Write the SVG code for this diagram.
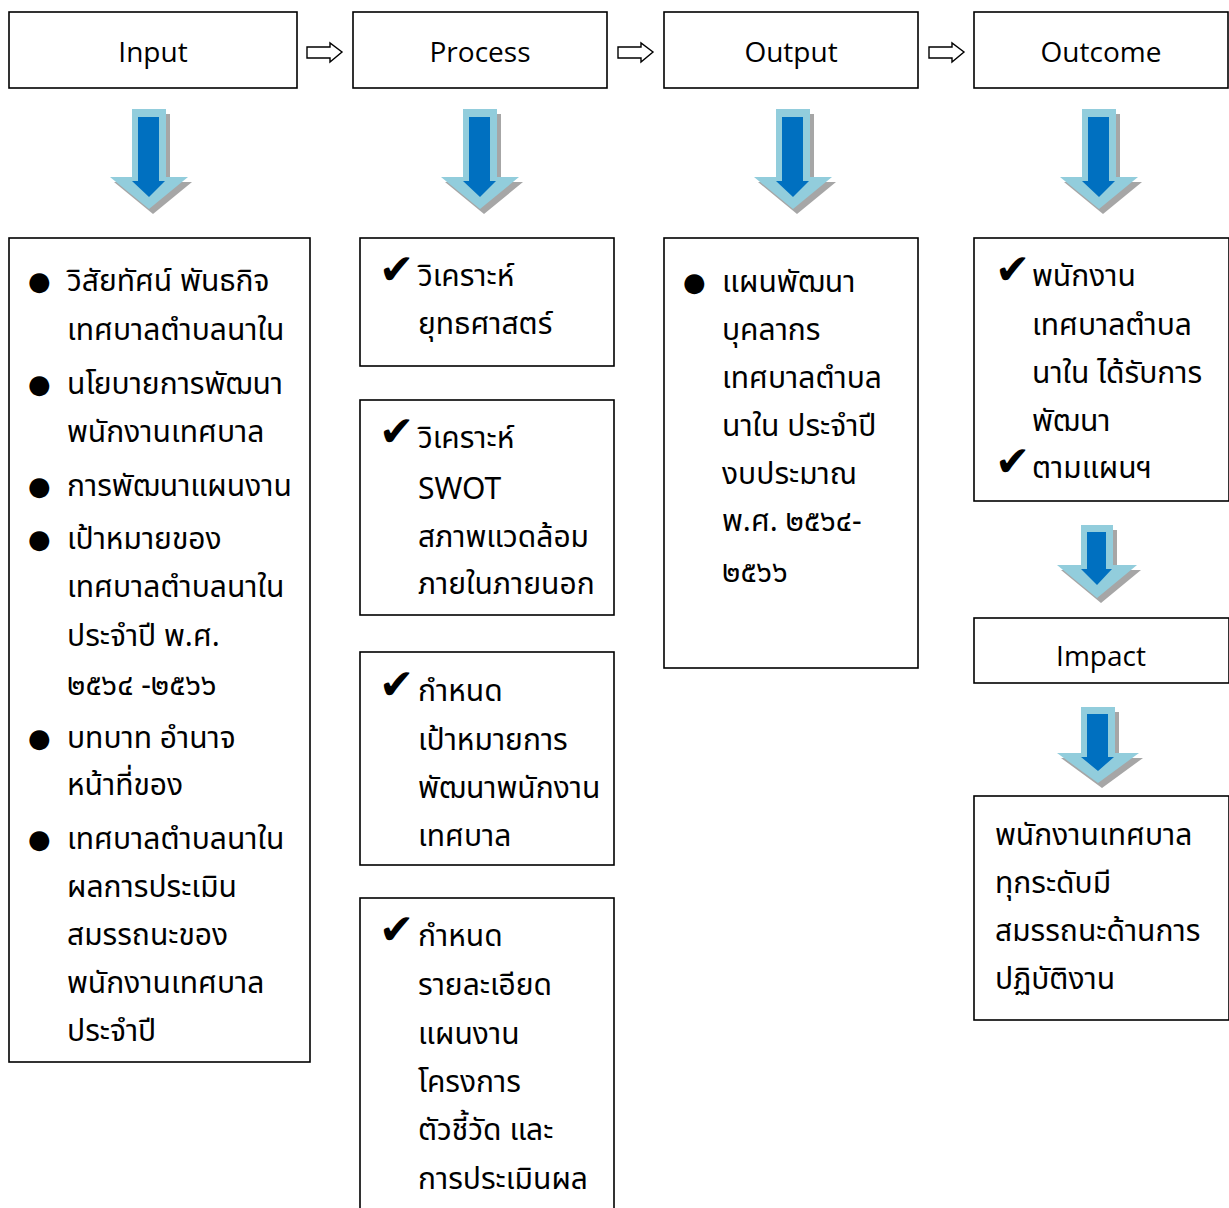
<svg xmlns="http://www.w3.org/2000/svg" width="1229" height="1208" viewBox="0 0 1229 1208">
<style>
.box{fill:#fff;stroke:#000;stroke-width:1.6}
.hd{font-family:"Open Sans","Noto Sans",sans-serif;font-size:28px;text-anchor:middle;fill:#000}
.th{font-family:"Noto Sans Thai","Tahoma","Noto Sans","DejaVu Sans",sans-serif;font-size:30px;fill:#000}
.mk{font-family:"DejaVu Sans",sans-serif;font-size:42px;fill:#000}
.bu{font-family:"DejaVu Sans",sans-serif;font-size:26px;fill:#000}
.con{fill:#fff;stroke:#000;stroke-width:1.4}
.sh{fill:#a6a6a6}
.lt{fill:#92cddc}
.dk{fill:#0070c0}
</style>
<defs>
<g id="bigArrow">
<polygon class="sh" points="-13,5 21,5 21,73 43,73 4,105 -35,73 -13,73"/>
<polygon class="lt" points="-17,0 17,0 17,68 39,68 0,100 -39,68 -17,68"/>
<polygon class="dk" points="-11,8 10,8 10,72 16,72 0,88 -17,72 -11,72"/>
</g>
<g id="midArrow">
<polygon class="sh" points="-12,5 20,5 20,45 44,45 4,78 -36,45 -12,45"/>
<polygon class="lt" points="-16,0 16,0 16,40 40,40 0,73 -40,40 -16,40"/>
<polygon class="dk" points="-10,7 9,7 9,44 15,44 0,60 -16,44 -10,44"/>
</g>
<g id="lowArrow">
<polygon class="sh" points="-13,5 21,5 21,51 45,51 4,81 -37,51 -13,51"/>
<polygon class="lt" points="-17,0 17,0 17,46 41,46 0,76 -41,46 -17,46"/>
<polygon class="dk" points="-11,7 10,7 10,50 16,50 0,64 -17,50 -11,50"/>
</g>
</defs>
<rect width="1229" height="1208" fill="#fff"/>

<g id="connectors">
<polygon class="con" points="307,47 330,47 330,43 342,52 330,62 330,58 307,58"/>
<polygon class="con" points="618,47 641,47 641,43 653,52 641,62 641,58 618,58"/>
<polygon class="con" points="929,47 952,47 952,43 964,52 952,62 952,58 929,58"/>
<use href="#bigArrow" x="149" y="109"/>
<use href="#bigArrow" x="480" y="109"/>
<use href="#bigArrow" x="793" y="109"/>
<use href="#bigArrow" x="1099" y="109"/>
<use href="#midArrow" x="1097" y="525"/>
<use href="#lowArrow" x="1098" y="707"/>
</g>

<g id="node-input">
<rect class="box" x="9" y="12" width="288" height="76"/>
<text class="hd" x="153" y="62">Input</text>
</g>
<g id="node-process">
<rect class="box" x="353" y="12" width="254" height="76"/>
<text class="hd" x="480" y="62">Process</text>
</g>
<g id="node-output">
<rect class="box" x="664" y="12" width="254" height="76"/>
<text class="hd" x="791" y="62">Output</text>
</g>
<g id="node-outcome">
<rect class="box" x="974" y="12" width="254" height="76"/>
<text class="hd" x="1101" y="62">Outcome</text>
</g>

<g id="node-input-detail">
<rect class="box" x="9" y="238" width="301" height="824"/>
<g class="bu">
<text x="28" y="290">●</text>
<text x="28" y="393">●</text>
<text x="28" y="495">●</text>
<text x="28" y="548">●</text>
<text x="28" y="747">●</text>
<text x="28" y="848">●</text>
</g>
<g class="th">
<text x="67" y="291">วิสัยทัศน์ พันธกิจ</text>
<text x="67" y="340">เทศบาลตำบลนาใน</text>
<text x="67" y="394">นโยบายการพัฒนา</text>
<text x="67" y="442">พนักงานเทศบาล</text>
<text x="67" y="496">การพัฒนาแผนงาน</text>
<text x="67" y="549">เป้าหมายของ</text>
<text x="67" y="597">เทศบาลตำบลนาใน</text>
<text x="67" y="646">ประจำปี พ.ศ.</text>
<text x="67" y="695">๒๕๖๔ -๒๕๖๖</text>
<text x="67" y="748">บทบาท อำนาจ</text>
<text x="67" y="795">หน้าที่ของ</text>
<text x="67" y="849">เทศบาลตำบลนาใน</text>
<text x="67" y="897">ผลการประเมิน</text>
<text x="67" y="945">สมรรถนะของ</text>
<text x="67" y="993">พนักงานเทศบาล</text>
<text x="67" y="1041">ประจำปี</text>
</g>
</g>

<g id="node-process-1">
<rect class="box" x="360" y="238" width="254" height="128"/>
<text class="mk" x="379" y="284">✔</text>
<text class="th" x="418" y="286">วิเคราะห์</text>
<text class="th" x="418" y="334">ยุทธศาสตร์</text>
</g>
<g id="node-process-2">
<rect class="box" x="360" y="400" width="254" height="215"/>
<text class="mk" x="379" y="446">✔</text>
<text class="th" x="418" y="448">วิเคราะห์</text>
<text class="th" x="418" y="499">SWOT</text>
<text class="th" x="418" y="547">สภาพแวดล้อม</text>
<text class="th" x="418" y="594">ภายในภายนอก</text>
</g>
<g id="node-process-3">
<rect class="box" x="360" y="652" width="254" height="213"/>
<text class="mk" x="379" y="699">✔</text>
<text class="th" x="418" y="701">กำหนด</text>
<text class="th" x="418" y="750">เป้าหมายการ</text>
<text class="th" x="418" y="798">พัฒนาพนักงาน</text>
<text class="th" x="418" y="846">เทศบาล</text>
</g>
<g id="node-process-4">
<rect class="box" x="360" y="898" width="254" height="320"/>
<text class="mk" x="379" y="944">✔</text>
<text class="th" x="418" y="946">กำหนด</text>
<text class="th" x="418" y="995">รายละเอียด</text>
<text class="th" x="418" y="1044">แผนงาน</text>
<text class="th" x="418" y="1092">โครงการ</text>
<text class="th" x="418" y="1140">ตัวชี้วัด และ</text>
<text class="th" x="418" y="1189">การประเมินผล</text>
</g>

<g id="node-output-detail">
<rect class="box" x="664" y="238" width="254" height="430"/>
<text class="bu" x="683" y="291">●</text>
<g class="th">
<text x="722" y="292">แผนพัฒนา</text>
<text x="722" y="340">บุคลากร</text>
<text x="722" y="388">เทศบาลตำบล</text>
<text x="722" y="436">นาใน ประจำปี</text>
<text x="722" y="484">งบประมาณ</text>
<text x="722" y="531">พ.ศ. ๒๕๖๔-</text>
<text x="722" y="582">๒๕๖๖</text>
</g>
</g>

<g id="node-outcome-detail">
<rect class="box" x="974" y="238" width="255" height="263"/>
<text class="mk" x="995" y="284">✔</text>
<text class="mk" x="995" y="476">✔</text>
<g class="th">
<text x="1032" y="286">พนักงาน</text>
<text x="1032" y="335">เทศบาลตำบล</text>
<text x="1032" y="383">นาใน ได้รับการ</text>
<text x="1032" y="431">พัฒนา</text>
<text x="1032" y="478">ตามแผนฯ</text>
</g>
</g>

<g id="node-impact">
<rect class="box" x="974" y="618" width="255" height="65"/>
<text class="hd" x="1101" y="666">Impact</text>
</g>

<g id="node-impact-detail">
<rect class="box" x="974" y="796" width="255" height="224"/>
<g class="th">
<text x="995" y="845">พนักงานเทศบาล</text>
<text x="995" y="893">ทุกระดับมี</text>
<text x="995" y="941">สมรรถนะด้านการ</text>
<text x="995" y="989">ปฏิบัติงาน</text>
</g>
</g>
</svg>
